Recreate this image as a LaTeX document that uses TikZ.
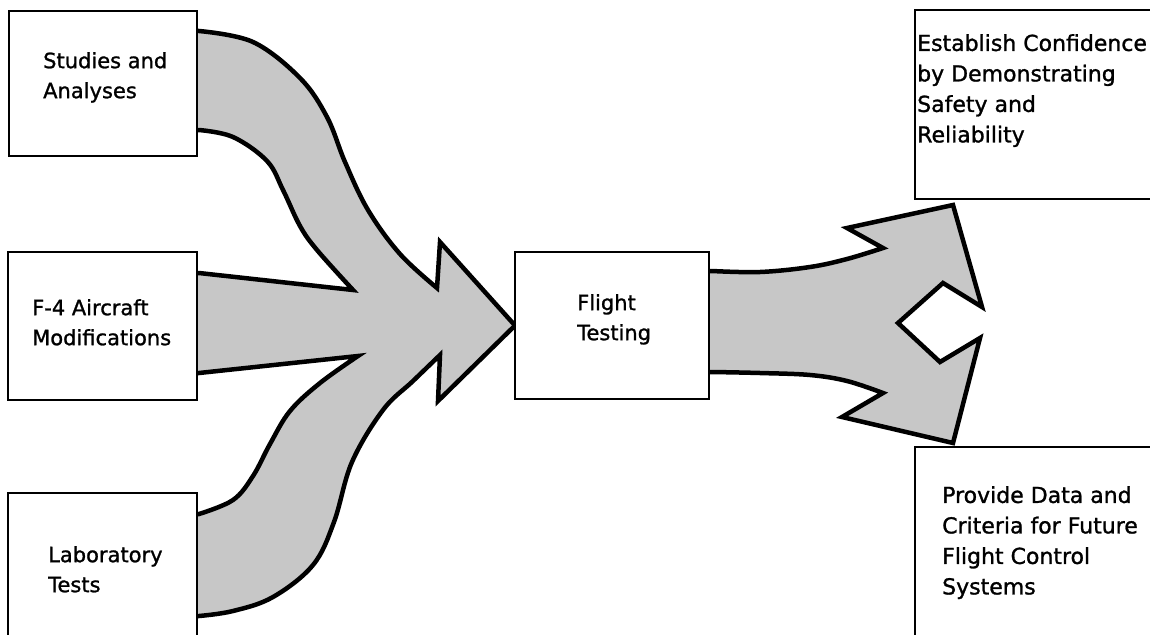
\documentclass[tikz,border=0pt]{standalone}
\usepackage{fontspec}
\setmainfont{DejaVu Sans}
\newfontfamily\boxfont[FakeBold=1.2]{DejaVu Sans}
\usetikzlibrary{backgrounds}
\begin{document}
\begin{tikzpicture}[x=1pt,y=-1pt,
  box/.style={draw, line width=2.5pt, fill=white, rectangle, inner sep=0pt, outer sep=0pt, anchor=north west},
  flow/.style={fill=black!22, draw=black, line width=4.5pt, line join=miter, miter limit=20},
  lbl/.style={inner sep=0pt, anchor=north west, align=left, font=\boxfont\fontsize{21}{30}\selectfont},
  lblr/.style={inner sep=0pt, anchor=north west, align=left, font=\boxfont\fontsize{22}{30.5}\selectfont}]
\useasboundingbox (0,0) rectangle (1150,634);
\clip (0,0) rectangle (1150,634);

% boxes
\node[box, minimum width=188pt, minimum height=145pt] (studies) at (9,11) {};
\node[box, minimum width=189pt, minimum height=148pt] (f4) at (8,252) {};
\node[box, minimum width=189pt, minimum height=175pt] (lab) at (8,493) {};
\node[box, minimum width=194pt, minimum height=147pt] (flight) at (515,252) {};
\node[box, minimum width=265pt, minimum height=189pt] (establish) at (915,10) {};
\node[box, minimum width=265pt, minimum height=220pt] (provide) at (915,447) {};

% texts
\node[lbl] (tstudies) at (43,52) {Studies and\\Analyses};
\node[lbl] (tf4) at (32,299) {F-4 Aircraft\\Modifications};
\node[lbl] (tlab) at (48,546) {Laboratory\\Tests};
\node[lbl] (tflight) at (577,294) {Flight\\Testing};
\node[lblr] (testab) at (917,34) {Establish Confidence\\by Demonstrating\\Safety and\\Reliability};
\node[lblr] (tprov) at (942,486) {Provide Data and\\Criteria for Future\\Flight Control\\Systems};

\begin{scope}[on background layer]
% merging arrow
\draw[flow] (185,31) -- (199,31)
  -- plot[smooth, tension=0.6] coordinates {(199,31) (253,42) (300,78) (327,117) (345,162) (368,210) (400,254) (437,288)}
  -- (440,242) -- (flight.west) -- (438,401) -- (440,355)
  -- plot[smooth, tension=0.6] coordinates {(440,355) (413,381) (383,410) (352,462) (334,522) (313,565) (273,597) (233,611) (199,616)}
  -- (185,616) -- (185,514) -- (199,514)
  -- plot[smooth, tension=0.6] coordinates {(199,514) (233,500) (253,476) (270,444) (290,411) (320,383) (358,356)}
  -- (199,373) -- (185,373) -- (185,273) -- (199,273) -- (353,290)
  -- plot[smooth, tension=0.6] coordinates {(353,290) (317,250) (300,226) (283,190) (267,161) (233,137) (199,130)}
  -- (185,130) -- cycle;
% splitting arrow
\draw[flow] (695,271) -- (712,271)
  -- plot[smooth, tension=0.6] coordinates {(712,271) (760,272) (810,267) (847,259) (883,248)}
  -- (847,228) -- (953,205) -- (982,307) -- (943,283) -- (898,323) -- (940,362) -- (980,338)
  -- (953,443) -- (842,417) -- (883,393)
  -- plot[smooth, tension=0.6] coordinates {(883,393) (847,381) (810,375) (760,373) (712,372)}
  -- (695,372) -- cycle;
\end{scope}
\end{tikzpicture}
\end{document}
